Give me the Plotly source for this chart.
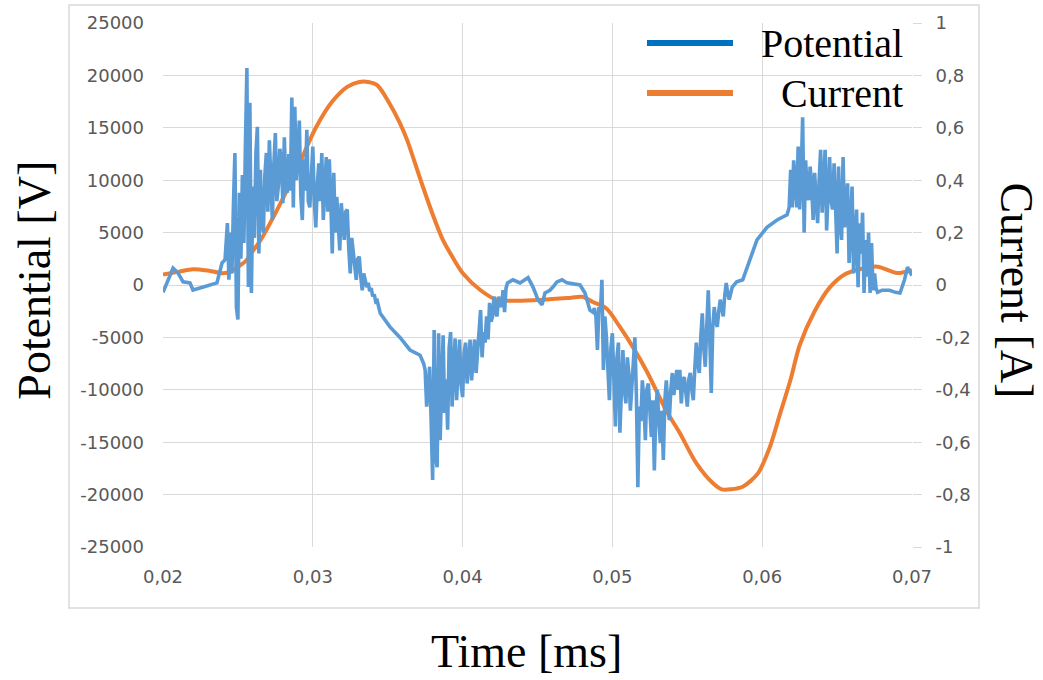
import plotly.graph_objects as go

# ---------------- data ----------------
x_ticks = [0.02, 0.03, 0.04, 0.05, 0.06, 0.07]
x_tick_labels = ["0,02", "0,03", "0,04", "0,05", "0,06", "0,07"]
pot_ticks = [-25000, -20000, -15000, -10000, -5000, 0, 5000, 10000, 15000, 20000, 25000]
pot_tick_labels = ["-25000", "-20000", "-15000", "-10000", "-5000", "0", "5000",
                   "10000", "15000", "20000", "25000"]
cur_ticks = [-1, -0.8, -0.6, -0.4, -0.2, 0, 0.2, 0.4, 0.6, 0.8, 1]
cur_tick_labels = ["-1", "-0,8", "-0,6", "-0,4", "-0,2", "0", "0,2", "0,4", "0,6", "0,8", "1"]

# Potential [V] vs time [ms]
pot_t = [
    0.02000, 0.02027, 0.02067, 0.02100, 0.02134, 0.02180, 0.02200, 0.02247, 0.02314, 0.02360,
    0.02394, 0.02414,
    0.0243, 0.0244, 0.0245, 0.0246, 0.0247, 0.0248, 0.0249, 0.0250, 0.0251, 0.0252,
    0.0253, 0.0254, 0.0255, 0.0256, 0.0257, 0.0258, 0.0259, 0.0260, 0.0261, 0.0262,
    0.0263, 0.0264, 0.0265, 0.0266, 0.0267, 0.0268, 0.0269, 0.0270, 0.0271, 0.0272,
    0.0273, 0.0274, 0.0275, 0.0276, 0.0277, 0.0278, 0.0279, 0.0280, 0.0281, 0.0282,
    0.0283, 0.0284, 0.0285, 0.0286, 0.0287, 0.0288, 0.0289, 0.0290, 0.0291, 0.0292,
    0.0293, 0.0294, 0.0295, 0.0296, 0.0297, 0.0298, 0.0299, 0.0300, 0.0301, 0.0302,
    0.0303, 0.0304, 0.0305, 0.0306, 0.0307, 0.0308, 0.0309, 0.0310, 0.0311, 0.0312,
    0.0313, 0.0314, 0.0315, 0.0316, 0.0317, 0.0318, 0.0319, 0.0320, 0.0321, 0.0322,
    0.0323, 0.0324, 0.0325, 0.0326, 0.0327, 0.0328, 0.0329, 0.0330, 0.0331, 0.0332,
    0.0333, 0.0334, 0.0335, 0.0336, 0.0337, 0.0338, 0.0339, 0.0340, 0.0341, 0.0342,
    0.0343, 0.0344, 0.0345,
    0.03515, 0.03582, 0.03649, 0.03716,
    0.0374, 0.0375, 0.0376, 0.0377, 0.0378, 0.0379, 0.0380, 0.0381, 0.0382, 0.0383,
    0.0384, 0.0385, 0.0386, 0.0387, 0.0388, 0.0389, 0.0390, 0.0391, 0.0392, 0.0393,
    0.0394, 0.0395, 0.0396, 0.0397, 0.0398, 0.0399, 0.0400, 0.0401, 0.0402, 0.0403,
    0.0404, 0.0405, 0.0406, 0.0407, 0.0408, 0.0409, 0.0410, 0.0411, 0.0412, 0.0413,
    0.0414, 0.0415, 0.0416, 0.0417, 0.0418, 0.0419, 0.0420, 0.0421, 0.0422, 0.0423,
    0.0424, 0.0425, 0.0426, 0.0427, 0.0428, 0.0429, 0.0430,
    0.04336, 0.04383, 0.04437, 0.04470, 0.04503, 0.04530, 0.04550, 0.04583, 0.04603, 0.04630,
    0.04664, 0.04697, 0.04784, 0.04817, 0.04850,
    0.0487, 0.0488, 0.0489, 0.0490, 0.0491, 0.0492, 0.0493, 0.0494, 0.0495, 0.0496,
    0.0497, 0.0498, 0.0499, 0.0500, 0.0501, 0.0502, 0.0503, 0.0504, 0.0505, 0.0506,
    0.0507, 0.0508, 0.0509, 0.0510, 0.0511, 0.0512, 0.0513, 0.0514, 0.0515, 0.0516,
    0.0517, 0.0518, 0.0519, 0.0520, 0.0521, 0.0522, 0.0523, 0.0524, 0.0525, 0.0526,
    0.0527, 0.0528, 0.0529, 0.0530, 0.0531, 0.0532, 0.0533, 0.0534, 0.0535, 0.0536,
    0.0537, 0.0538, 0.0539, 0.0540, 0.0541, 0.0542, 0.0543, 0.0544, 0.0545, 0.0546,
    0.0547, 0.0548, 0.0549, 0.0550, 0.0551, 0.0552, 0.0553, 0.0554, 0.0555, 0.0556,
    0.0557, 0.0558, 0.0559, 0.0560, 0.0561, 0.0562, 0.0563, 0.0564, 0.0565, 0.0566,
    0.0567, 0.0568, 0.0569, 0.0570, 0.0571, 0.0572, 0.0573, 0.0574, 0.0575, 0.0576,
    0.0577, 0.0578,
    0.0580, 0.0583, 0.0587, 0.0592, 0.05965, 0.06032, 0.06099, 0.06166,
    0.0618, 0.0619, 0.0620, 0.0621, 0.0622, 0.0623, 0.0624, 0.0625, 0.0626, 0.0627,
    0.0628, 0.0629, 0.0630, 0.0631, 0.0632, 0.0633, 0.0634, 0.0635, 0.0636, 0.0637,
    0.0638, 0.0639, 0.0640, 0.0641, 0.0642, 0.0643, 0.0644, 0.0645, 0.0646, 0.0647,
    0.0648, 0.0649, 0.0650, 0.0651, 0.0652, 0.0653, 0.0654, 0.0655, 0.0656, 0.0657,
    0.0658, 0.0659, 0.0660, 0.0661, 0.0662, 0.0663, 0.0664, 0.0665, 0.0666, 0.0667,
    0.0668, 0.0669, 0.0670, 0.0671, 0.0672, 0.0673, 0.0674, 0.0675, 0.0676, 0.0677,
    0.0680, 0.0685, 0.0689, 0.0692, 0.0695, 0.0697, 0.0700,
]
pot_v = [
    -700, 200, 1600, 1150, 300, 200, -480, -290, 0, 200,
    2100, 2400,
    5900, 500, 5000, 1100, 7500, 12600, -2100, -3300, 8800, 2500,
    10500, 4000, 13200, 20700, -200, 17400, -760, 9400, 4500, 12500,
    15100, 3000, 11000, 6000, 5000, 10500, 12600, 7000, 13800, 8500,
    6200, 11500, 14500, 8000, 9400, 13000, 12000, 7800, 14100, 9500,
    8800, 12500, 9000, 17900, 7400, 17000, 10000, 12500, 15700, 8500,
    6200, 12000, 9000, 14800, 8000, 7400, 11500, 13200, 8000, 5500,
    9500, 11600, 8000, 12600, 6200, 9000, 12200, 7000, 12000, 8000,
    3000, 10700, 5000, 8400, 6000, 3300, 7800, 5500, 4300, 7000,
    7200, 3500, 1100, 4500, 3300, 2000, 500, 2500, 2700, 800,
    -500, 1100, 600, -200, 200, -600, -300, -1100, -900, -1600,
    -1500, -2300, -2700,
    -4000, -5000, -6200, -6700,
    -7500, -8100, -11600, -9500, -7800, -13000, -18600, -4300, -16400, -17400,
    -4600, -14800, -8400, -4800, -12200, -9000, -13800, -6000, -4500, -11600,
    -8000, -5100, -11000, -7000, -5200, -9500, -10700, -6500, -5500, -9400,
    -7000, -5200, -9100, -6500, -5200, -8400, -6000, -4000, -2400, -6900,
    -4500, -5500, -3000, -5200, -1700, -3500, -3000, -1100, -2500, -3000,
    -1100, -1800, -2100, -500, -2600, -300, 200,
    500, 200, 700, -200, -1400, -1900, -760, -500, -200, 300,
    500, 200, 0, -760, -2400,
    -2600, -2200, -3000, -6200, -2100, -2600, 500, -8100, -3000, -5000,
    -7500, -11000, -6000, -4600, -9000, -13500, -7000, -5500, -14100, -9000,
    -6200, -10000, -11300, -6900, -8500, -12000, -9100, -7500, -5000, -10500,
    -19300, -11600, -13000, -9100, -11000, -14800, -10000, -9400, -12500, -14500,
    -11000, -17700, -12000, -10000, -13000, -15100, -12000, -16700, -11000, -9100,
    -11500, -12900, -10000, -8400, -10500, -9500, -8100, -10000, -8100, -11300,
    -9000, -8800, -10500, -11600, -9000, -8400, -10000, -11000, -8000, -5500,
    -7500, -8400, -5000, -2700, -6000, -7800, -4000, -500, -5000, -10300,
    -4000, -2100, -3500, -4000, -2500, -1400, -2200, -3000, -1000, 200,
    -800, -1400,
    -200, 300, 500, 2500, 4300, 5500, 6200, 6700,
    7400, 11000, 7400, 11900, 9000, 7400, 13200, 7200, 10500, 16000,
    5000, 11900, 9000, 8100, 11300, 9500, 6200, 10700, 8000, 5900,
    10000, 12900, 6900, 9500, 12900, 5200, 9000, 12200, 8000, 7200,
    11600, 6500, 3000, 11300, 6000, 4300, 12200, 5500, 7500, 9700,
    2100, 6000, 9400, 1100, 4500, 7200, -200, 5900, 3000, 6900,
    -760, 4300, 800, 5000, -760, 4000, -500, 1100, -300, -700,
    -500, -500, -700, -760, 500, 1700, 900,
]

# Current [A] vs time [ms]
cur_t = [0.0200, 0.0210, 0.0220, 0.0230, 0.0240, 0.0245, 0.0250, 0.0255, 0.0260, 0.0265,
         0.0270, 0.0280, 0.0290, 0.0302, 0.0313, 0.0323, 0.0331, 0.0337, 0.0343, 0.0351,
         0.0358, 0.0363, 0.0372, 0.0380, 0.0387, 0.0395, 0.0400, 0.0412, 0.0423, 0.0436,
         0.0452, 0.0470, 0.0480, 0.0487, 0.0496, 0.0505, 0.0514, 0.0523, 0.0536, 0.0545,
         0.0556, 0.0567, 0.0573, 0.0579, 0.0587, 0.0597, 0.0605, 0.0612, 0.0619, 0.0625,
         0.0635, 0.0645, 0.0655, 0.0665, 0.0677, 0.0690, 0.0700]
cur_i = [0.04, 0.05, 0.06, 0.055, 0.045, 0.05, 0.07, 0.09, 0.13, 0.17,
         0.22, 0.33, 0.45, 0.60, 0.70, 0.756, 0.775, 0.775, 0.763, 0.695,
         0.62, 0.553, 0.40, 0.27, 0.17, 0.09, 0.046, -0.02, -0.057, -0.06,
         -0.057, -0.05, -0.045, -0.065, -0.09, -0.16, -0.24, -0.33, -0.48, -0.565,
         -0.68, -0.756, -0.78, -0.78, -0.77, -0.72, -0.62, -0.49, -0.36, -0.23,
         -0.10, -0.01, 0.04, 0.06, 0.07, 0.046, 0.057]

series_names = ["Potential", "Current"]
trace_colors = ["#5B9BD5", "#ED7D31"]
legend_colors = ["#0070C0", "#ED7D31"]

# ---------------- figure ----------------
GRID = "#D9D9D9"
TICKFONT = dict(family="DejaVu Sans", size=18, color="#595959")
SERIF = "Liberation Serif"

fig = go.Figure()
# Current on the base axis (right side); Potential on the overlaying axis so it is drawn on top
fig.add_trace(go.Scatter(x=cur_t, y=cur_i, mode="lines", name=series_names[1],
                         line=dict(color=trace_colors[1], width=4, shape="spline", smoothing=0.8),
                         yaxis="y", showlegend=False))
fig.add_trace(go.Scatter(x=pot_t, y=pot_v, mode="lines", name=series_names[0],
                         line=dict(color=trace_colors[0], width=3.6), yaxis="y2", showlegend=False))

fig.update_layout(
    width=1043, height=680, autosize=False,
    margin=dict(l=163, r=131, t=23, b=133),
    paper_bgcolor="white", plot_bgcolor="white",
    xaxis=dict(range=[0.02, 0.07], tickvals=x_ticks, ticktext=x_tick_labels,
               showgrid=True, gridcolor=GRID, gridwidth=1, zeroline=False, showline=False,
               ticks="", tickfont=TICKFONT, ticklabelstandoff=17),
    yaxis=dict(range=[-1, 1], tickvals=cur_ticks, ticktext=cur_tick_labels, side="right",
               showgrid=True, gridcolor=GRID, gridwidth=1, zeroline=False, showline=False,
               ticks="outside", ticklen=9, tickcolor=GRID, tickfont=TICKFONT,
               ticklabelstandoff=10),
    yaxis2=dict(range=[-25000, 25000], tickvals=pot_ticks, ticktext=pot_tick_labels,
                side="left", overlaying="y", showgrid=False, zeroline=False, showline=False,
                ticks="", tickfont=TICKFONT, ticklabelstandoff=18),
    showlegend=False,
)

# chart-area frame
fig.add_shape(type="rect", xref="paper", yref="paper", x0=-0.1255, x1=1.0895, y0=-0.1164, y1=1.0344,
              line=dict(color=GRID, width=1.5), layer="below")

# axis titles
fig.add_annotation(text="Time [ms]", xref="paper", yref="paper", x=0.485, y=-0.20,
                   xanchor="center", yanchor="middle", showarrow=False,
                   font=dict(family=SERIF, size=46, color="black"))
fig.add_annotation(text="Potential [V]", xref="paper", yref="paper", x=-0.171, y=0.51,
                   xanchor="center", yanchor="middle", textangle=-90, showarrow=False,
                   font=dict(family=SERIF, size=46, color="black"))
fig.add_annotation(text="Current [A]", xref="paper", yref="paper", x=1.140, y=0.49,
                   xanchor="center", yanchor="middle", textangle=90, showarrow=False,
                   font=dict(family=SERIF, size=46, color="black"))

# legend (swatch + label, labels right-aligned as in the original)
legend_y = [0.9618, 0.8664]
for name, col, ly in zip(series_names, legend_colors, legend_y):
    fig.add_shape(type="line", xref="paper", yref="paper", x0=0.6462, x1=0.7610, y0=ly, y1=ly,
                  line=dict(color=col, width=6))
    fig.add_annotation(text=name, xref="paper", yref="paper", x=0.99, y=ly,
                       xanchor="right", yanchor="middle", showarrow=False,
                       font=dict(family=SERIF, size=40, color="black"))

fig.write_html("out.html")
